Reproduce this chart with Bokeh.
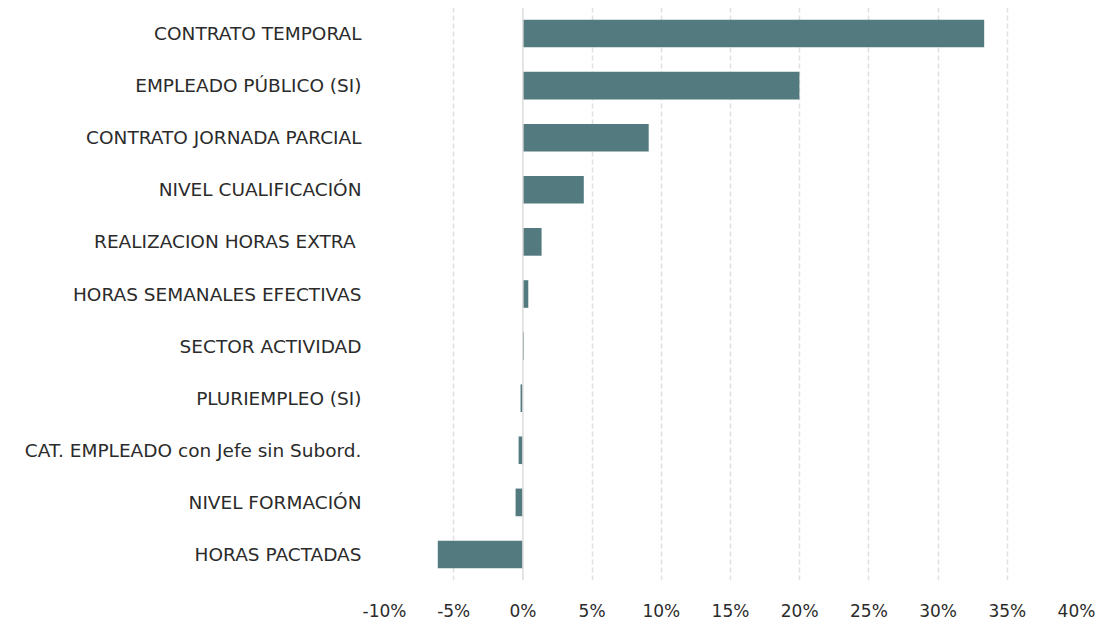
from bokeh.plotting import figure
from bokeh.models import Span, PrintfTickFormatter, FixedTicker, Range1d
from bokeh.embed import file_html
from bokeh.resources import INLINE

categories = [
    "CONTRATO TEMPORAL",
    "EMPLEADO PÚBLICO (SI)",
    "CONTRATO JORNADA PARCIAL",
    "NIVEL CUALIFICACIÓN",
    "REALIZACION HORAS EXTRA ",
    "HORAS SEMANALES EFECTIVAS",
    "SECTOR ACTIVIDAD",
    "PLURIEMPLEO (SI)",
    "CAT. EMPLEADO con Jefe sin Subord.",
    "NIVEL FORMACIÓN",
    "HORAS PACTADAS",
]
values = [33.33, 19.98, 9.09, 4.40, 1.35, 0.39, 0.08, -0.17, -0.31, -0.53, -6.15]
x_ticks = [-10, -5, 0, 5, 10, 15, 20, 25, 30, 35, 40]

FONT = "DejaVu Sans"
factors = list(reversed(categories))

p = figure(
    y_range=factors,
    x_range=Range1d(-10, 40),
    frame_width=692,
    frame_height=573,
    output_backend="svg",
    toolbar_location=None,
    min_border_left=384,
    min_border_right=20,
    min_border_top=7,
    min_border_bottom=0,
)
p.outline_line_color = None
p.background_fill_color = "white"

p.hbar(y=categories, right=values, left=0, height=0.53,
       fill_color="#537b7f", line_color=None)

zero = Span(location=0, dimension="height", line_color="#dcdcdc", line_width=1.5)
p.add_layout(zero)

p.xgrid.ticker = FixedTicker(ticks=[t for t in x_ticks if t != 0])
p.xgrid.grid_line_color = "#e0e0e0"
p.xgrid.grid_line_dash = "5 3"
p.xgrid.grid_line_width = 1.5
p.ygrid.grid_line_color = None

xa = p.xaxis[0]
xa.ticker = FixedTicker(ticks=x_ticks)
xa.formatter = PrintfTickFormatter(format="%d%%")
xa.axis_line_color = None
xa.major_tick_line_color = None
xa.minor_tick_line_color = None
xa.major_tick_out = 0
xa.major_tick_in = 0
xa.major_label_standoff = 20
xa.major_label_text_font = FONT
xa.major_label_text_font_size = "17px"
xa.major_label_text_color = "#2b2b2b"

ya = p.yaxis[0]
ya.axis_line_color = None
ya.major_tick_line_color = None
ya.minor_tick_line_color = None
ya.major_tick_out = 0
ya.major_tick_in = 0
ya.major_label_standoff = 23
ya.major_label_text_font = FONT
ya.major_label_text_font_size = "18.5px"
ya.major_label_text_color = "#2b2b2b"

open("out.html", "w").write(file_html(p, INLINE))
